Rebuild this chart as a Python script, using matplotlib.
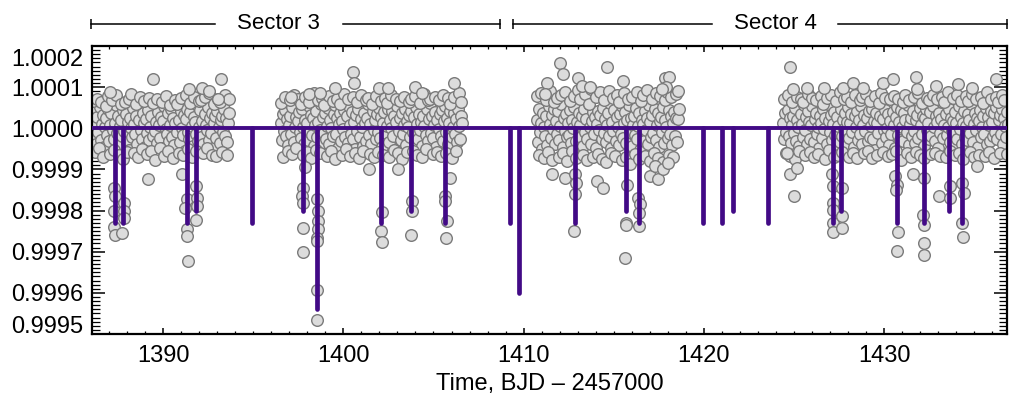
import numpy as np
import matplotlib
matplotlib.use("Agg")
import matplotlib.pyplot as plt
from matplotlib.ticker import MultipleLocator, FixedLocator

plt.rcParams['font.family'] = ['Liberation Sans', 'DejaVu Sans']

# ---------------- data ----------------
# Sector 3, orbit 1 (time in BJD-2457000, flux offset in ppm)
t_s3a = [1386.06, 1386.12, 1386.18, 1386.24, 1386.30, 1386.36, 1386.42, 1386.48, 1386.54, 1386.60,
         1386.66, 1386.72, 1386.78, 1386.84, 1386.90, 1386.96, 1387.02, 1387.08, 1387.14, 1387.20,
         1387.26, 1387.32, 1387.38, 1387.44, 1387.50, 1387.56, 1387.62, 1387.68, 1387.74, 1387.80,
         1387.86, 1387.92, 1387.98, 1388.04, 1388.10, 1388.16, 1388.22, 1388.28, 1388.34, 1388.40,
         1388.46, 1388.52, 1388.58, 1388.64, 1388.70, 1388.76, 1388.82, 1388.88, 1388.94, 1389.00,
         1389.06, 1389.12, 1389.18, 1389.24, 1389.30, 1389.36, 1389.42, 1389.48, 1389.54, 1389.60,
         1389.66, 1389.72, 1389.78, 1389.84, 1389.90, 1389.96, 1390.02, 1390.08, 1390.14, 1390.20,
         1390.26, 1390.32, 1390.38, 1390.44, 1390.50, 1390.56, 1390.62, 1390.68, 1390.74, 1390.80,
         1390.86, 1390.92, 1390.98, 1391.04, 1391.10, 1391.16, 1391.22, 1391.28, 1391.34, 1391.40,
         1391.46, 1391.52, 1391.58, 1391.64, 1391.70, 1391.76, 1391.82, 1391.88, 1391.94, 1392.00,
         1392.06, 1392.12, 1392.18, 1392.24, 1392.30, 1392.36, 1392.42, 1392.48, 1392.54, 1392.60,
         1392.66, 1392.72, 1392.78, 1392.84, 1392.90, 1392.96, 1393.02, 1393.08, 1393.14, 1393.20,
         1393.26, 1393.32, 1393.38, 1393.44, 1393.50, 1393.56, 1393.62, 1393.68]
f_s3a = [18, -22, 41, 5, -37, 27, -9, 52, -28, 11,
         33, -45, 2, 24, -16, 47, -31, 8, 38, -4,
         -25, 14, 56, -12, 29, -40, 6, 21, -19, 44,
         -7, 35, -33, 16, -52, 26, 0, -21, 49, 10,
         -14, 31, -38, 19, 58, -3, -27, 37, 12, -46,
         23, -11, 45, -29, 4, 30, -18, 62, -6, 15,
         -35, 40, 7, -24, 28, -49, 17, 53, -2, -15,
         36, -30, 9, 46, -20, 25, -41, 13, 60, -8,
         20, -34, 42, 1, -17, 32, -55, 22, 48, -10,
         -26, 39, 6, -43, 27, 15, -13, 57, -32, 3,
         44, -21, 18, -39, 34, 8, -5, 51, -28, 24,
         -12, 37, -47, 14, 29, -23, 43, 2, -36, 19,
         31, -9, 47, -18, 26, -33, 12, 38]
t_s3a_x = [1386.09, 1386.21, 1386.33, 1386.45, 1386.57, 1386.69, 1386.81, 1386.93, 1387.05, 1387.17,
           1387.29, 1387.41, 1387.53, 1387.65, 1387.77, 1387.89, 1388.01, 1388.13, 1388.25, 1388.37,
           1388.49, 1388.61, 1388.73, 1388.85, 1388.97, 1389.09, 1389.21, 1389.33, 1389.45, 1389.57,
           1389.69, 1389.81, 1389.93, 1390.05, 1390.17, 1390.29, 1390.41, 1390.53, 1390.65, 1390.77,
           1390.89, 1391.01, 1391.13, 1391.25, 1391.37, 1391.49, 1391.61, 1391.73, 1391.85, 1391.97,
           1392.09, 1392.21, 1392.33, 1392.45, 1392.57, 1392.69, 1392.81, 1392.93, 1393.05, 1393.17,
           1393.29, 1393.41, 1393.53, 1393.65]
f_s3a_x = [67, -58, 72, -49, 63, -71, 55, 78, -62, 69,
           -53, 81, -66, 59, -74, 64, -57, 70, 84, -60,
           58, -69, 76, -51, 66, -63, 73, -55, 61, -78,
           71, -48, 65, -67, 79, -54, 57, -72, 68, 60,
           -59, 74, -65, 82, -50, 62, -70, 77, -56, 66,
           69, -61, 75, -47, 86, -64, 58, -68, 72, 63,
           -57, 80, -66, 70]

# Sector 3, orbit 2
t_s3b = [1396.52, 1396.58, 1396.64, 1396.70, 1396.76, 1396.82, 1396.88, 1396.94, 1397.00, 1397.06,
         1397.12, 1397.18, 1397.24, 1397.30, 1397.36, 1397.42, 1397.48, 1397.54, 1397.60, 1397.66,
         1397.72, 1397.78, 1397.84, 1397.90, 1397.96, 1398.02, 1398.08, 1398.14, 1398.20, 1398.26,
         1398.32, 1398.38, 1398.44, 1398.50, 1398.56, 1398.62, 1398.68, 1398.74, 1398.80, 1398.86,
         1398.92, 1398.98, 1399.04, 1399.10, 1399.16, 1399.22, 1399.28, 1399.34, 1399.40, 1399.46,
         1399.52, 1399.58, 1399.64, 1399.70, 1399.76, 1399.82, 1399.88, 1399.94, 1400.00, 1400.06,
         1400.12, 1400.18, 1400.24, 1400.30, 1400.36, 1400.42, 1400.48, 1400.54, 1400.60, 1400.66,
         1400.72, 1400.78, 1400.84, 1400.90, 1400.96, 1401.02, 1401.08, 1401.14, 1401.20, 1401.26,
         1401.32, 1401.38, 1401.44, 1401.50, 1401.56, 1401.62, 1401.68, 1401.74, 1401.80, 1401.86,
         1401.92, 1401.98, 1402.04, 1402.10, 1402.16, 1402.22, 1402.28, 1402.34, 1402.40, 1402.46,
         1402.52, 1402.58, 1402.64, 1402.70, 1402.76, 1402.82, 1402.88, 1402.94, 1403.00, 1403.06,
         1403.12, 1403.18, 1403.24, 1403.30, 1403.36, 1403.42, 1403.48, 1403.54, 1403.60, 1403.66,
         1403.72, 1403.78, 1403.84, 1403.90, 1403.96, 1404.02, 1404.08, 1404.14, 1404.20, 1404.26,
         1404.32, 1404.38, 1404.44, 1404.50, 1404.56, 1404.62, 1404.68, 1404.74, 1404.80, 1404.86,
         1404.92, 1404.98, 1405.04, 1405.10, 1405.16, 1405.22, 1405.28, 1405.34, 1405.40, 1405.46,
         1405.52, 1405.58, 1405.64, 1405.70, 1405.76, 1405.82, 1405.88, 1405.94, 1406.00, 1406.06,
         1406.12, 1406.18, 1406.24, 1406.30, 1406.36, 1406.42, 1406.48, 1406.54, 1406.60]
f_s3b = [12, -28, 35, -6, 44, -19, 23, -41, 8, 30,
         -15, 51, -33, 4, 27, -48, 18, 39, -10, -24,
         46, 2, -37, 21, 13, -29, 55, -8, 33, -16,
         25, -44, 9, 42, -21, 16, -5, 60, -35, 28,
         -11, 38, -26, 6, 49, -39, 20, 1, -18, 34,
         57, -13, 24, -47, 11, 36, -30, 17, -2, 45,
         -22, 29, -36, 53, 7, -14, 40, -25, 15, -50,
         32, -7, 48, -20, 22, 3, -42, 37, 14, -31,
         26, 59, -17, 10, -38, 43, -4, 19, -27, 35,
         -9, 50, -23, 28, -45, 13, 39, -12, 6, 47,
         -34, 21, 0, 41, -19, 31, -53, 16, 54, -6,
         24, -29, 37, -15, 9, 46, -40, 18, 2, 33,
         -21, 43, -8, 27, -36, 52, 11, -26, 35, -3,
         15, -43, 30, 5, -16, 48, -32, 22, 62, -11,
         29, -24, 8, 39, -46, 20, -1, 34, -18, 44,
         -30, 17, 55, -9, 25, -37, 12, 41, -20, 3,
         36, -14, 23, -33, 47, 6, -25, 31, 14]
t_s3b_x = [1396.55, 1396.67, 1396.79, 1396.91, 1397.03, 1397.15, 1397.27, 1397.39, 1397.51, 1397.63,
           1397.75, 1397.87, 1397.99, 1398.11, 1398.23, 1398.35, 1398.47, 1398.59, 1398.71, 1398.83,
           1398.95, 1399.07, 1399.19, 1399.31, 1399.43, 1399.55, 1399.67, 1399.79, 1399.91, 1400.03,
           1400.15, 1400.27, 1400.39, 1400.51, 1400.63, 1400.75, 1400.87, 1400.99, 1401.11, 1401.23,
           1401.35, 1401.47, 1401.59, 1401.71, 1401.83, 1401.95, 1402.07, 1402.19, 1402.31, 1402.43,
           1402.55, 1402.67, 1402.79, 1402.91, 1403.03, 1403.15, 1403.27, 1403.39, 1403.51, 1403.63,
           1403.75, 1403.87, 1403.99, 1404.11, 1404.23, 1404.35, 1404.47, 1404.59, 1404.71, 1404.83,
           1404.95, 1405.07, 1405.19, 1405.31, 1405.43, 1405.55, 1405.67, 1405.79, 1405.91, 1406.03,
           1406.15, 1406.27, 1406.39, 1406.51]
f_s3b_x = [62, -71, 75, -55, 68, -63, 80, -49, 71, 58,
           -66, 77, -58, 64, -73, 85, -52, 69, -61, 74,
           57, -68, 79, -56, 66, -75, 72, 60, -64, 83,
           -51, 70, -67, 76, -59, 65, -72, 81, -54, 68,
           73, -62, 59, -70, 78, -57, 66, -65, 74, 61,
           -69, 82, -53, 71, -60, 67, -74, 76, -58, 63,
           70, -55, 79, -66, 62, -71, 84, -50, 68, 72,
           -63, 75, -57, 69, -68, 80, -61, 73, 59, -72,
           77, -54, 86, 65]

# Sector 4, orbit 1
t_s4a = [1410.72, 1410.78, 1410.84, 1410.90, 1410.96, 1411.02, 1411.08, 1411.14, 1411.20, 1411.26,
         1411.32, 1411.38, 1411.44, 1411.50, 1411.56, 1411.62, 1411.68, 1411.74, 1411.80, 1411.86,
         1411.92, 1411.98, 1412.04, 1412.10, 1412.16, 1412.22, 1412.28, 1412.34, 1412.40, 1412.46,
         1412.52, 1412.58, 1412.64, 1412.70, 1412.76, 1412.82, 1412.88, 1412.94, 1413.00, 1413.06,
         1413.12, 1413.18, 1413.24, 1413.30, 1413.36, 1413.42, 1413.48, 1413.54, 1413.60, 1413.66,
         1413.72, 1413.78, 1413.84, 1413.90, 1413.96, 1414.02, 1414.08, 1414.14, 1414.20, 1414.26,
         1414.32, 1414.38, 1414.44, 1414.50, 1414.56, 1414.62, 1414.68, 1414.74, 1414.80, 1414.86,
         1414.92, 1414.98, 1415.04, 1415.10, 1415.16, 1415.22, 1415.28, 1415.34, 1415.40, 1415.46,
         1415.52, 1415.58, 1415.64, 1415.70, 1415.76, 1415.82, 1415.88, 1415.94, 1416.00, 1416.06,
         1416.12, 1416.18, 1416.24, 1416.30, 1416.36, 1416.42, 1416.48, 1416.54, 1416.60, 1416.66,
         1416.72, 1416.78, 1416.84, 1416.90, 1416.96, 1417.02, 1417.08, 1417.14, 1417.20, 1417.26,
         1417.32, 1417.38, 1417.44, 1417.50, 1417.56, 1417.62, 1417.68, 1417.74, 1417.80, 1417.86,
         1417.92, 1417.98, 1418.04, 1418.10, 1418.16, 1418.22, 1418.28, 1418.34, 1418.40, 1418.46,
         1418.52, 1418.58, 1418.64]
f_s4a = [21, -33, 46, -8, 14, -51, 38, 3, -19, 29,
         -40, 55, 10, -24, 33, -2, 48, -37, 17, -13,
         41, -28, 6, 60, -45, 25, -7, 35, -22, 12,
         -16, 44, -35, 20, 1, 52, -30, 15, -56, 37,
         8, -20, 31, -42, 47, -10, 23, -27, 58, 4,
         -38, 18, 39, -14, 27, -49, 11, 43, -4, 32,
         -25, 50, -11, 22, -34, 9, 36, -18, 62, -47,
         16, -6, 45, -31, 28, 2, -41, 34, -15, 53,
         -23, 13, 40, -36, 19, 57, -9, 26, -44, 7,
         30, -17, 49, -26, 5, 38, -52, 21, 11, -32,
         42, -3, 24, -39, 56, 15, -21, 33, -12, 46,
         -29, 9, 37, -46, 18, 28, -8, 51, -35, 20,
         3, -24, 44, -15, 31, -41, 12, 39, -19, 26,
         -33, 22, 48]
t_s4a_x = [1410.75, 1410.87, 1410.99, 1411.11, 1411.23, 1411.35, 1411.47, 1411.59, 1411.71, 1411.83,
           1411.95, 1412.07, 1412.19, 1412.31, 1412.43, 1412.55, 1412.67, 1412.79, 1412.91, 1413.03,
           1413.15, 1413.27, 1413.39, 1413.51, 1413.63, 1413.75, 1413.87, 1413.99, 1414.11, 1414.23,
           1414.35, 1414.47, 1414.59, 1414.71, 1414.83, 1414.95, 1415.07, 1415.19, 1415.31, 1415.43,
           1415.55, 1415.67, 1415.79, 1415.91, 1416.03, 1416.15, 1416.27, 1416.39, 1416.51, 1416.63,
           1416.75, 1416.87, 1416.99, 1417.11, 1417.23, 1417.35, 1417.47, 1417.59, 1417.71, 1417.83,
           1417.95, 1418.07, 1418.19, 1418.31, 1418.43, 1418.55]
f_s4a_x = [78, -64, 85, -72, 69, -58, 91, -76, 63, 74,
           -69, 82, -61, 88, -80, 67, -55, 79, -73, 92,
           71, -66, 84, -78, 60, 95, -70, 76, -62, 87,
           -75, 68, -83, 90, -59, 73, -68, 81, 64, -77,
           86, -71, 70, -86, 77, -63, 89, -74, 66, 80,
           -67, 93, -79, 72, -60, 85, -72, 78, -82, 69,
           88, -65, 75, -70, 83, 90]

# Sector 4, orbit 2
t_s4b = [1424.40, 1424.46, 1424.52, 1424.58, 1424.64, 1424.70, 1424.76, 1424.82, 1424.88, 1424.94,
         1425.00, 1425.06, 1425.12, 1425.18, 1425.24, 1425.30, 1425.36, 1425.42, 1425.48, 1425.54,
         1425.60, 1425.66, 1425.72, 1425.78, 1425.84, 1425.90, 1425.96, 1426.02, 1426.08, 1426.14,
         1426.20, 1426.26, 1426.32, 1426.38, 1426.44, 1426.50, 1426.56, 1426.62, 1426.68, 1426.74,
         1426.80, 1426.86, 1426.92, 1426.98, 1427.04, 1427.10, 1427.16, 1427.22, 1427.28, 1427.34,
         1427.40, 1427.46, 1427.52, 1427.58, 1427.64, 1427.70, 1427.76, 1427.82, 1427.88, 1427.94,
         1428.00, 1428.06, 1428.12, 1428.18, 1428.24, 1428.30, 1428.36, 1428.42, 1428.48, 1428.54,
         1428.60, 1428.66, 1428.72, 1428.78, 1428.84, 1428.90, 1428.96, 1429.02, 1429.08, 1429.14,
         1429.20, 1429.26, 1429.32, 1429.38, 1429.44, 1429.50, 1429.56, 1429.62, 1429.68, 1429.74,
         1429.80, 1429.86, 1429.92, 1429.98, 1430.04, 1430.10, 1430.16, 1430.22, 1430.28, 1430.34,
         1430.40, 1430.46, 1430.52, 1430.58, 1430.64, 1430.70, 1430.76, 1430.82, 1430.88, 1430.94,
         1431.00, 1431.06, 1431.12, 1431.18, 1431.24, 1431.30, 1431.36, 1431.42, 1431.48, 1431.54,
         1431.60, 1431.66, 1431.72, 1431.78, 1431.84, 1431.90, 1431.96, 1432.02, 1432.08, 1432.14,
         1432.20, 1432.26, 1432.32, 1432.38, 1432.44, 1432.50, 1432.56, 1432.62, 1432.68, 1432.74,
         1432.80, 1432.86, 1432.92, 1432.98, 1433.04, 1433.10, 1433.16, 1433.22, 1433.28, 1433.34,
         1433.40, 1433.46, 1433.52, 1433.58, 1433.64, 1433.70, 1433.76, 1433.82, 1433.88, 1433.94,
         1434.00, 1434.06, 1434.12, 1434.18, 1434.24, 1434.30, 1434.36, 1434.42, 1434.48, 1434.54,
         1434.60, 1434.66, 1434.72, 1434.78, 1434.84, 1434.90, 1434.96, 1435.02, 1435.08, 1435.14,
         1435.20, 1435.26, 1435.32, 1435.38, 1435.44, 1435.50, 1435.56, 1435.62, 1435.68, 1435.74,
         1435.80, 1435.86, 1435.92, 1435.98, 1436.04, 1436.10, 1436.16, 1436.22, 1436.28, 1436.34,
         1436.40, 1436.46, 1436.52, 1436.58, 1436.64, 1436.70, 1436.76, 1436.82, 1436.88]
f_s4b = [14, -27, 38, -9, 45, -18, 26, -36, 7, 31,
         -12, 49, -30, 19, 2, -44, 34, 11, -21, 56,
         -5, 28, -39, 42, 16, -25, 8, 53, -33, 22,
         37, -14, 4, -48, 30, 13, -23, 46, -2, 25,
         -37, 59, 18, -8, 33, -29, 10, 40, -16, -50,
         27, 6, -34, 47, -19, 21, -1, 36, -42, 15,
         51, -24, 12, 35, -10, -45, 29, 3, 43, -28,
         20, -15, 54, -38, 9, 32, -6, 24, -31, 41,
         -20, 5, 48, -26, 17, -52, 38, 13, -11, 30,
         61, -35, 23, -4, 44, -22, 1, 34, -40, 18,
         -13, 39, 8, -47, 27, 52, -17, 15, -29, 45,
         3, -32, 36, 21, -9, 57, -41, 11, 26, -18,
         42, -6, -36, 19, 33, -24, 50, 7, -14, 29,
         -43, 24, 46, -3, 13, -27, 39, -19, 55, 2,
         -30, 31, 16, -49, 37, -11, 22, 63, -23, 9,
         35, -16, 4, 47, -34, 26, -7, 18, -44, 40,
         12, -25, 53, -1, 28, -38, 14, 43, -20, 6,
         -28, 34, 21, -12, 58, -33, 10, 37, -5, 24,
         -46, 17, 45, -22, 3, 31, -15, 50, -39, 27,
         8, -31, 41, 15, -18, 36, -8, 52, -26, 20,
         33, -13, 46, -37, 25, 5, -21, 39, 11]
t_s4b_x = [1424.43, 1424.55, 1424.67, 1424.79, 1424.91, 1425.03, 1425.15, 1425.27, 1425.39, 1425.51,
           1425.63, 1425.75, 1425.87, 1425.99, 1426.11, 1426.23, 1426.35, 1426.47, 1426.59, 1426.71,
           1426.83, 1426.95, 1427.07, 1427.19, 1427.31, 1427.43, 1427.55, 1427.67, 1427.79, 1427.91,
           1428.03, 1428.15, 1428.27, 1428.39, 1428.51, 1428.63, 1428.75, 1428.87, 1428.99, 1429.11,
           1429.23, 1429.35, 1429.47, 1429.59, 1429.71, 1429.83, 1429.95, 1430.07, 1430.19, 1430.31,
           1430.43, 1430.55, 1430.67, 1430.79, 1430.91, 1431.03, 1431.15, 1431.27, 1431.39, 1431.51,
           1431.63, 1431.75, 1431.87, 1431.99, 1432.11, 1432.23, 1432.35, 1432.47, 1432.59, 1432.71,
           1432.83, 1432.95, 1433.07, 1433.19, 1433.31, 1433.43, 1433.55, 1433.67, 1433.79, 1433.91,
           1434.03, 1434.15, 1434.27, 1434.39, 1434.51, 1434.63, 1434.75, 1434.87, 1434.99, 1435.11,
           1435.23, 1435.35, 1435.47, 1435.59, 1435.71, 1435.83, 1435.95, 1436.07, 1436.19, 1436.31,
           1436.43, 1436.55, 1436.67, 1436.79]
f_s4b_x = [72, -60, 81, -68, 65, -74, 77, -55, 70, 63,
           -66, 84, -58, 73, -71, 68, -62, 79, 60, -75,
           74, -53, 82, -69, 66, -64, 88, -57, 71, 76,
           -70, 63, -59, 80, -73, 69, 75, -61, 83, -56,
           67, -72, 78, -65, 62, 86, -58, 74, -67, 70,
           -63, 79, -54, 72, -76, 65, 81, -60, 68, -69,
           77, -57, 85, -66, 61, -73, 74, 69, -62, 82,
           -59, 71, -68, 76, 64, -71, 87, -55, 73, -64,
           80, -61, 67, -74, 78, 66, -57, 83, -70, 72,
           -65, 75, 62, -67, 89, -58, 70, -72, 76, 64,
           -60, 81, 68, -63]

# Isolated points (time, relative flux)
t_high = [1389.43, 1393.23, 1387.08, 1391.42, 1392.16, 1392.53, 1393.05, 1397.12, 1398.08, 1398.73,
          1399.56, 1400.52, 1400.57, 1402.00, 1402.48, 1403.96, 1404.36, 1406.12, 1411.30, 1412.02,
          1412.17, 1414.64, 1415.50, 1413.03, 1413.22, 1413.68, 1417.84, 1418.08, 1417.90, 1417.66,
          1411.19, 1424.78, 1424.96, 1425.70, 1426.66, 1427.73, 1428.25, 1428.84, 1429.95, 1430.47,
          1431.76, 1432.87, 1434.11, 1434.85, 1436.20, 1431.80]
f_high = [1.000120, 1.000120, 1.000087, 1.000095, 1.000099, 1.000091, 1.000071, 1.000075, 1.000083, 1.000085,
          1.000099, 1.000136, 1.000109, 1.000099, 1.000099, 1.000101, 1.000085, 1.000111, 1.000109, 1.000158,
          1.000132, 1.000150, 1.000114, 1.000122, 1.000103, 1.000101, 1.000122, 1.000125, 1.000100, 1.000095,
          1.000083, 1.000148, 1.000095, 1.000098, 1.000098, 1.000098, 1.000109, 1.000099, 1.000109, 1.000120,
          1.000125, 1.000103, 1.000107, 1.000099, 1.000120, 1.000095]

t_low = [1389.17, 1391.05, 1401.44, 1403.05, 1405.92, 1411.56, 1412.30, 1414.05, 1414.42, 1417.00,
         1417.47, 1417.29, 1417.75, 1418.03, 1424.63, 1424.78, 1425.15, 1425.00, 1431.58, 1433.05,
         1435.13, 1397.90]
f_low = [0.999876, 0.999890, 0.999900, 0.999900, 0.999880, 0.999888, 0.999880, 0.999871, 0.999855, 0.999884,
         0.999876, 0.999908, 0.999900, 0.999916, 0.999941, 0.999890, 0.999904, 0.999835, 0.999890, 0.999835,
         0.999908, 0.999905]

t_intransit = [1387.27, 1387.32, 1387.27, 1387.27, 1387.36, 1387.73, 1387.82, 1387.82, 1387.82,
               1391.33, 1391.24, 1391.33, 1391.33, 1391.37,
               1391.83, 1391.88, 1391.88, 1391.83,
               1397.78, 1397.69, 1397.78, 1397.78, 1397.78,
               1398.52, 1398.61, 1398.61, 1398.61, 1398.52, 1398.52, 1398.52, 1398.56,
               1402.13, 1402.09, 1402.13,
               1403.79, 1403.79, 1403.73,
               1405.64, 1405.64, 1405.73, 1405.69,
               1412.85, 1412.90, 1412.85, 1412.80,
               1415.72, 1415.68, 1415.68, 1415.62,
               1416.36, 1416.45, 1416.41, 1416.41,
               1427.09, 1427.18, 1427.14, 1427.14, 1427.18, 1427.18,
               1427.64, 1427.64, 1427.64,
               1430.60, 1430.69, 1430.65, 1430.78, 1430.72,
               1432.21, 1432.17, 1432.21, 1432.21, 1432.21,
               1433.65, 1433.65,
               1434.31, 1434.40, 1434.31, 1434.36]
f_intransit = [0.999855, 0.999835, 0.999798, 0.999759, 0.999741, 0.999746, 0.999819, 0.999798, 0.999782,
               0.999827, 0.999807, 0.999754, 0.999737, 0.999678,
               0.999859, 0.999830, 0.999810, 0.999778,
               0.999855, 0.999835, 0.999819, 0.999758, 0.999700,
               0.999827, 0.999798, 0.999774, 0.999754, 0.999733, 0.999725, 0.999606, 0.999534,
               0.999797, 0.999750, 0.999724,
               0.999823, 0.999800, 0.999740,
               0.999835, 0.999823, 0.999774, 0.999733,
               0.999888, 0.999868, 0.999840, 0.999751,
               0.999863, 0.999770, 0.999764, 0.999685,
               0.999830, 0.999815, 0.999794, 0.999762,
               0.999888, 0.999859, 0.999819, 0.999802, 0.999770, 0.999749,
               0.999855, 0.999786, 0.999758,
               0.999884, 0.999863, 0.999851, 0.999749, 0.999702,
               0.999880, 0.999790, 0.999766, 0.999721, 0.999693,
               0.999859, 0.999830,
               0.999868, 0.999843, 0.999770, 0.999735]

# Transit model: mid-times and minimum flux of each transit
transit_times = [1387.32, 1387.77, 1391.32, 1391.83, 1394.92, 1397.79, 1398.52, 1402.10, 1403.76, 1405.66,
                 1409.27, 1409.77, 1412.83, 1415.67, 1416.41, 1419.96, 1420.98, 1421.62, 1423.53,
                 1427.14, 1427.59, 1430.72, 1432.19, 1433.57, 1434.30]
transit_depths = [0.99977, 0.99977, 0.99977, 0.99980, 0.99977, 0.99980, 0.99956, 0.99977, 0.99980, 0.99977,
                  0.99977, 0.99960, 0.99977, 0.99980, 0.99977, 0.99977, 0.99977, 0.99980, 0.99977,
                  0.99977, 0.99980, 0.99977, 0.99977, 0.99980, 0.99977]

sector_labels = ['Sector 3', 'Sector 4']
sector_spans = [(1386.0, 1408.69), (1409.43, 1436.8)]
sector_text_x = [1396.38, 1423.94]
sector_gap = [(1392.88, 1399.98), (1420.45, 1427.44)]

x_ticks = [1390, 1400, 1410, 1420, 1430]
y_ticks = [0.9995, 0.9996, 0.9997, 0.9998, 0.9999, 1.0000, 1.0001, 1.0002]

# ---------------- figure ----------------
fig = plt.figure(figsize=(10.24, 3.97), dpi=100)
ax = fig.add_axes([92/1024, 1 - 334/397, (1007-92)/1024, (334-46)/397])

band_t = []
band_f = []
for tt, ff in [(t_s3a, f_s3a), (t_s3a_x, f_s3a_x), (t_s3b, f_s3b), (t_s3b_x, f_s3b_x),
               (t_s4a, f_s4a), (t_s4a_x, f_s4a_x), (t_s4b, f_s4b), (t_s4b_x, f_s4b_x)]:
    n = min(len(tt), len(ff))
    band_t.extend(tt[:n])
    band_f.extend([1.0 + v * 1e-6 for v in ff[:n]])

all_t = np.array(band_t + t_high + t_low + t_intransit)
all_f = np.array(band_f + f_high + f_low + f_intransit)

ax.scatter(all_t, all_f, s=70, facecolor='#dcdcdc', edgecolor='#7a7a7a',
           linewidth=1.0, zorder=2)

xmin, xmax = 1386.06, 1436.81
model_color = '#420a86'
ax.hlines(1.0, xmin, xmax, color=model_color, linewidth=2.8, zorder=3)
vl = ax.vlines(transit_times, transit_depths, [1.0] * len(transit_times),
               color=model_color, linewidth=3.4, zorder=3)
vl.set_capstyle('round')

ax.set_xlim(xmin, xmax)
ax.set_ylim(0.9995, 1.0002)

ax.xaxis.set_major_locator(FixedLocator(x_ticks))
ax.xaxis.set_minor_locator(MultipleLocator(1))
ax.yaxis.set_major_locator(FixedLocator(y_ticks))
ax.yaxis.set_minor_locator(MultipleLocator(0.00001))
ax.set_xticklabels([str(v) for v in x_ticks])
# end labels are placed separately (pulled inside the axis range, IDL style)
inner_labels = ['%.4f' % v for v in y_ticks]
ax.set_yticklabels([''] + inner_labels[1:-1] + [''])

ax.tick_params(axis='both', which='both', direction='in', top=True, right=True,
               labelsize=17, color='black')
ax.tick_params(axis='y', which='major', length=9.5, width=1.1, pad=6.5)
ax.tick_params(axis='y', which='minor', length=5.5, width=0.9)
ax.tick_params(axis='x', which='major', length=4.5, width=1.1, pad=8)
ax.tick_params(axis='x', which='minor', length=2.5, width=0.9)
for sp in ax.spines.values():
    sp.set_linewidth(1.6)

ax.annotate(inner_labels[0], xy=(0, y_ticks[0]), xycoords=('axes fraction', 'data'),
            xytext=(-6.5, 1), textcoords='offset points', ha='right', va='baseline',
            fontsize=17)
ax.annotate(inner_labels[-1], xy=(0, y_ticks[-1]), xycoords=('axes fraction', 'data'),
            xytext=(-6.5, -2.5), textcoords='offset points', ha='right', va='top',
            fontsize=17)

ax.set_xlabel('Time, BJD \u2013 2457000', fontsize=17, labelpad=4)

# Sector brackets above the plot
trans = ax.get_xaxis_transform()
yb = 1.078
for lab, (x0, x1), xt, (g0, g1) in zip(sector_labels, sector_spans, sector_text_x, sector_gap):
    ax.plot([x0, g0], [yb, yb], color='black', lw=1.1, transform=trans, clip_on=False)
    ax.plot([g1, x1], [yb, yb], color='black', lw=1.1, transform=trans, clip_on=False)
    ax.plot([x0, x1], [yb, yb], linestyle='none', marker='|', markersize=7, mew=1.1,
            color='black', transform=trans, clip_on=False)
    ax.text(xt, yb, lab, transform=trans, ha='center', va='center', fontsize=16)

fig.savefig('out.png', dpi=100)
